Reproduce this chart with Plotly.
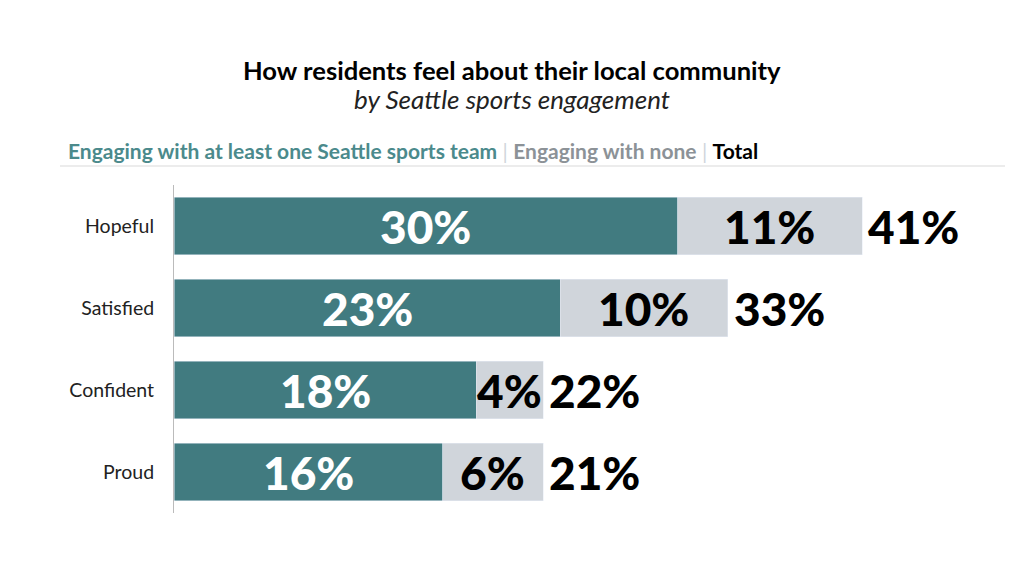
import plotly.graph_objects as go

# --- data ---
feelings = ["Hopeful", "Satisfied", "Confident", "Proud"]
engaged = [30, 23, 18, 16]        # engaging with at least one Seattle sports team
engaged_none = [11, 10, 4, 6]     # engaging with none
totals = [41, 33, 22, 21]         # printed totals

TEAL = "#417b80"
GREY = "#d0d5db"
FONT = "Lato"

W, H = 1024, 576
OFF = 8  # page body margin
L, T, PH = 174 - OFF, 197 - 12 - OFF, 328
R = 10 - OFF
B = H - T - PH
PW = W - L - R


def px_x(x):
    # screenshot pixel -> paper fraction
    return (x - OFF - L) / PW


def px_y(y):
    return (T + PH - (y - OFF)) / PH


fig = go.Figure()
fig.add_trace(go.Bar(
    y=feelings, x=engaged, orientation="h", marker_color=TEAL,
    name="Engaging with at least one Seattle sports team", hoverinfo="x",
))
fig.add_trace(go.Bar(
    y=feelings, x=engaged_none, orientation="h", marker_color=GREY,
    name="Engaging with none", hoverinfo="x",
))

num_font = dict(family=FONT, size=46, weight=900)

# value labels
for cat, a, b, t in zip(feelings, engaged, engaged_none, totals):
    fig.add_annotation(x=a / 2, y=cat, text=f"{a}%", showarrow=False,
                       font=dict(num_font, color="white"))
    fig.add_annotation(x=a + b / 2, y=cat, text=f"{b}%", showarrow=False,
                       font=dict(num_font, color="black"))
    fig.add_annotation(x=a + b, y=cat, text=f"{t}%", showarrow=False,
                       xanchor="left", xshift=4,
                       font=dict(num_font, color="black"))

# title, subtitle, colour-coded legend line
fig.add_annotation(xref="paper", yref="paper", x=px_x(512), y=px_y(70),
                   xanchor="center", yanchor="middle", showarrow=False,
                   text="<b>How residents feel about their local community</b>",
                   font=dict(family=FONT, size=25.6, color="black"))
fig.add_annotation(xref="paper", yref="paper", x=px_x(512), y=px_y(99),
                   xanchor="center", yanchor="middle", showarrow=False,
                   text="<i>by Seattle sports engagement</i>",
                   font=dict(family=FONT, size=26, color="#222222"))
fig.add_annotation(
    xref="paper", yref="paper", x=px_x(66), y=px_y(151),
    xanchor="left", yanchor="middle", showarrow=False,
    text=("<b><span style='color:#4b8a8c'>Engaging with at least one Seattle sports team</span></b>"
          "<span style='color:#d0d5db'> | </span>"
          "<b><span style='color:#8c9297'>Engaging with none</span></b>"
          "<span style='color:#d0d5db'> | </span>"
          "<b><span style='color:black'>Total</span></b>"),
    font=dict(family=FONT, size=21),
)
fig.add_shape(type="line", xref="paper", yref="paper",
              x0=px_x(60), x1=px_x(1005), y0=px_y(166), y1=px_y(166),
              line=dict(color="#d9d9d9", width=1))

fig.update_layout(
    barmode="stack",
    bargap=0.30,
    showlegend=False,
    width=W, height=H,
    margin=dict(l=L, r=R, t=T, b=B),
    paper_bgcolor="white", plot_bgcolor="white",
    font=dict(family=FONT),
)
fig.update_xaxes(range=[0, 51], visible=False)
fig.update_yaxes(autorange="reversed", showgrid=False, showline=True,
                 linecolor="#bbbbbb", linewidth=1, ticks="", ticklabelstandoff=15,
                 tickfont=dict(family=FONT, size=19.5, color="#222222"))

fig.write_html("out.html")
